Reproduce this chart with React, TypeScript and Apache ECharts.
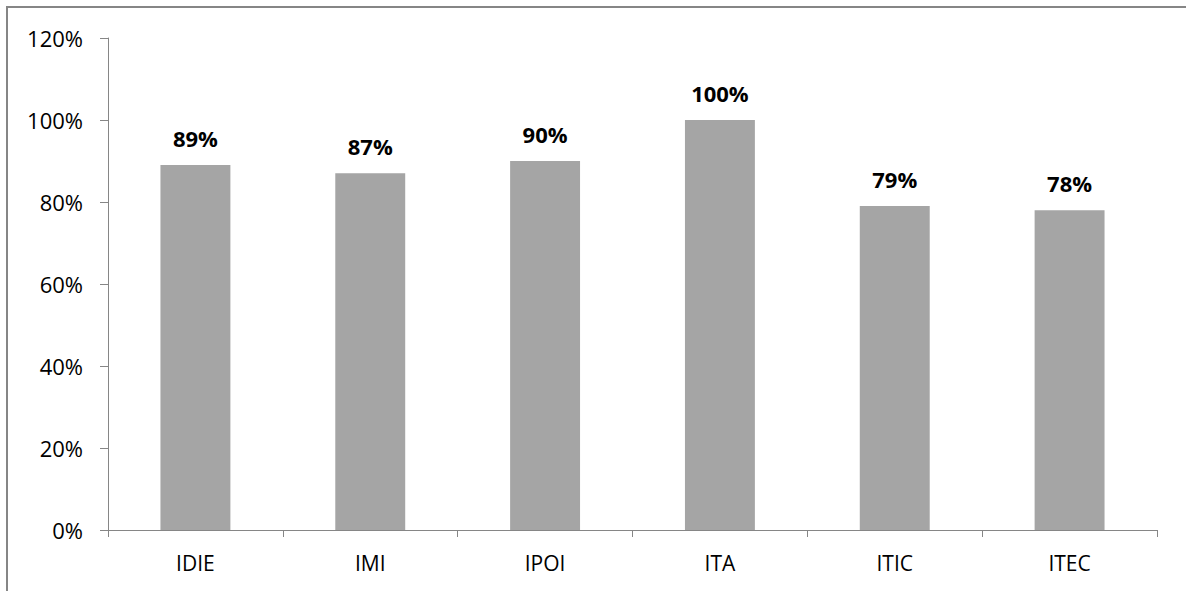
import React, { useEffect, useRef } from "react";
import * as echarts from "echarts";

const categories = ["IDIE", "IMI", "IPOI", "ITA", "ITIC", "ITEC"];
const values = [89, 87, 90, 100, 79, 78];
const yTicks = [0, 20, 40, 60, 80, 100, 120];

export default function App() {
  const ref = useRef<HTMLDivElement>(null);
  useEffect(() => {
    if (!ref.current) return;
    const chart = echarts.init(ref.current, undefined, { renderer: "svg" });
    const font = "'Open Sans', 'Noto Sans', sans-serif";
    chart.setOption({
      animation: false,
      backgroundColor: "#ffffff",
      graphic: [
        {
          type: "rect",
          shape: { x: 7, y: 7, width: 1300, height: 700 },
          style: { fill: "none", stroke: "#868686", lineWidth: 2 },
          silent: true,
        },
      ],
      grid: { left: 108, right: 29, top: 38, bottom: 61, containLabel: false },
      xAxis: {
        type: "category",
        data: categories,
        axisLine: { show: true, lineStyle: { color: "#868686", width: 1 } },
        axisTick: { show: true, alignWithLabel: false, length: 7, lineStyle: { color: "#868686" } },
        axisLabel: { color: "#000000", fontFamily: font, fontSize: 21, margin: 22 },
        splitLine: { show: false },
      },
      yAxis: {
        type: "value",
        min: 0,
        max: 120,
        interval: 20,
        axisLine: { show: true, lineStyle: { color: "#868686", width: 1 } },
        axisTick: { show: true, length: 8, lineStyle: { color: "#868686" } },
        axisLabel: {
          color: "#000000",
          fontFamily: font,
          fontSize: 22,
          margin: 25,
          formatter: (v: number) => (yTicks.includes(v) ? v + "%" : ""),
        },
        splitLine: { show: false },
      },
      series: [
        {
          type: "bar",
          data: values,
          barWidth: "40%",
          itemStyle: { color: "#A5A5A5" },
          label: {
            show: true,
            position: "top",
            distance: 16,
            formatter: (p: any) => p.value + "%",
            color: "#000000",
            fontFamily: font,
            fontSize: 22,
            fontWeight: "bold",
          },
        },
      ],
    });
    return () => chart.dispose();
  }, []);
  return (
    <div
      ref={ref}
      style={{ position: "fixed", left: 0, top: 0, width: 1186, height: 591 }}
    />
  );
}
